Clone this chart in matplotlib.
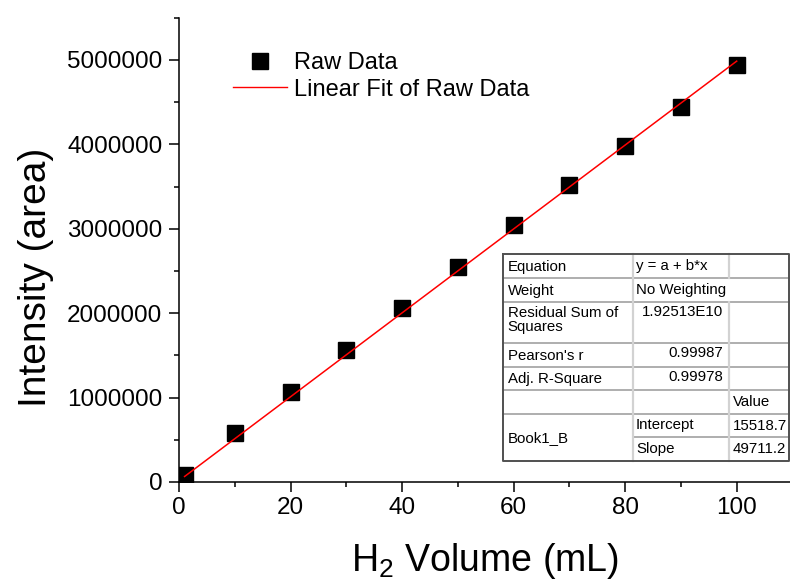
import numpy as np
import matplotlib
matplotlib.use('Agg')
import matplotlib.pyplot as plt
from matplotlib.ticker import MultipleLocator

plt.rcParams['font.family'] = ['Liberation Sans', 'DejaVu Sans']
plt.rcParams['mathtext.fontset'] = 'custom'
plt.rcParams['mathtext.rm'] = 'Liberation Sans'
plt.rcParams['mathtext.it'] = 'Liberation Sans:italic'

# data
volume = [1, 10, 20, 30, 40, 50, 60, 70, 80, 90, 100]
intensity = [80000, 577000, 1070000, 1564000, 2058000, 2553000,
             3045000, 3515000, 3985000, 4447000, 4941000]
intercept = 15518.7
slope = 49711.2

# fit report table (left column, middle column, right column)
tab_left = ['Equation', 'Weight', 'Residual Sum of\nSquares', "Pearson's r",
            'Adj. R-Square', '', 'Book1_B']
tab_mid = ['y = a + b*x', 'No Weighting', '1.92513E10', '0.99987', '0.99978',
           '', 'Intercept', 'Slope']
tab_right = ['', '', '', '', '', 'Value', '15518.7', '49711.2']

fig = plt.figure(figsize=(7.9, 5.88), dpi=100)
ax = fig.add_axes([179/790, 106/588, 611/790, 464.2/588])

x = np.asarray(volume, dtype=float)
fit_x = np.array([x.min(), x.max()])
ax.plot(x, intensity, 's', color='k', markersize=11.5, zorder=2, label='Raw Data')
ax.plot(fit_x, intercept + slope*fit_x, color='red', lw=1.1, zorder=3,
        label='Linear Fit of Raw Data')

ax.set_xlim(0, 611/5.577)
ax.set_ylim(0, 5.5e6)
ax.xaxis.set_major_locator(MultipleLocator(20))
ax.xaxis.set_minor_locator(MultipleLocator(10))
ax.yaxis.set_major_locator(MultipleLocator(1000000))
ax.yaxis.set_minor_locator(MultipleLocator(500000))
ax.ticklabel_format(style='plain', useOffset=False, axis='y')

for s in ['top', 'right']:
    ax.spines[s].set_visible(False)
for s in ['left', 'bottom']:
    ax.spines[s].set_linewidth(1.1)
ax.tick_params(which='major', direction='out', length=7, width=1.1, labelsize=17.5)
ax.tick_params(which='minor', direction='out', length=3.6, width=1.1)
ax.tick_params(axis='y', which='major', pad=5)

ax.set_xlabel('H$_2$ Volume (mL)', fontsize=27, labelpad=16)
ax.set_ylabel('Intensity (area)', fontsize=28)
ax.yaxis.set_label_coords(-0.205, 0.44)

leg = ax.legend(loc='upper left', bbox_to_anchor=(0.062, 0.962), frameon=False,
                fontsize=17, handlelength=2.25, handletextpad=0.3,
                labelspacing=0.2, borderaxespad=0.3)
leg.get_lines()[1].set_linewidth(1.0)

# fit report table drawn in pixel space
tx = fig.add_axes([0, 0, 1, 1], zorder=5)
tx.set_xlim(0, 790)
tx.set_ylim(588, 0)
tx.axis('off')

left, c1, c2, right = 502.5, 633, 729, 789
rows = [254, 278, 302, 343, 367, 390, 414, 437, 461]
tx.fill_between([left, right], rows[0], rows[-1], color='white', zorder=1)

hcol = '#a8a8a8'
vcol = '#d2d2d2'
for r in rows[1:-1]:
    x0 = c1 if r == rows[7] else left
    tx.plot([x0, right], [r, r], color=hcol, lw=1.3, zorder=2)
tx.plot([c1, c1], [rows[0], rows[-1]], color=vcol, lw=1.6, zorder=2)
tx.plot([c2, c2], [rows[0], rows[1]], color=vcol, lw=1.6, zorder=2)
tx.plot([c2, c2], [rows[2], rows[-1]], color=vcol, lw=1.6, zorder=2)
tx.plot([left, right, right, left, left],
        [rows[0], rows[0], rows[-1], rows[-1], rows[0]],
        color='#505050', lw=1.4, zorder=3)

fs = 10.8
for i, t in enumerate(tab_left):
    if i == 6:
        tx.text(left + 5, (rows[6] + rows[8]) / 2 + 1, t, fontsize=fs, va='center', ha='left')
    elif i == 2:
        tx.text(left + 5, rows[i] + 4, t, fontsize=fs, va='top', ha='left',
                linespacing=1.0)
    else:
        tx.text(left + 5, (rows[i] + rows[i+1]) / 2 + 1, t, fontsize=fs,
                va='center', ha='left')
for i, t in enumerate(tab_mid):
    if i in (0, 1, 6, 7):
        tx.text(c1 + 3, (rows[i] + rows[i+1]) / 2, t, fontsize=fs, va='center', ha='left')
    elif t:
        tx.text(c2 - 6, rows[i] + 3, t, fontsize=fs, va='top', ha='right')
for i, t in enumerate(tab_right):
    if t:
        tx.text(c2 + 4, (rows[i] + rows[i+1]) / 2, t, fontsize=fs, va='center', ha='left')

fig.savefig('out.png', dpi=100)
